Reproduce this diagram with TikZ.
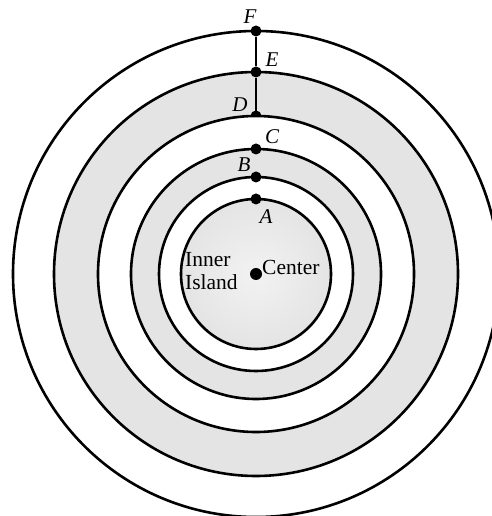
\documentclass[tikz,border=0pt]{standalone}
\usepackage{fontspec}
\setmainfont{Liberation Serif}
\definecolor{ringgray}{HTML}{E4E4E5}
\definecolor{ringlight}{HTML}{F2F2F3}
\begin{document}
\begin{tikzpicture}[x=1pt,y=1pt,
  ring/.style={draw=black, line width=2.6pt},
  dot/.style={circle, fill=black, inner sep=0pt, minimum size=11pt},
  lbl/.style={font=\fontsize{21}{24}\selectfont\itshape, inner sep=0pt},
  txt/.style={font=\fontsize{21.5}{23.5}\selectfont, inner sep=0pt, align=left}]
\useasboundingbox (0,0) rectangle (491,516);
\coordinate (O) at (256,242);
% shaded regions
\fill[ringgray, even odd rule] (O) circle (202) (O) circle (158);
\fill[ringgray, even odd rule] (O) circle (125) (O) circle (97);
\shade[inner color=ringlight, outer color=ringgray] (O) circle (75);
% circles
\foreach \r in {243,202,158,125,97,75} \draw[ring] (O) circle (\r);
% points
\node[dot] (pF) at (256,485) {};
\node[dot] (pE) at (256,444) {};
\coordinate (pD) at (256,400);
\fill (pD) ++(-5.5,0) arc[start angle=180, end angle=0, radius=5.5] -- cycle;
\node[dot] (pC) at (256,367) {};
\node[dot] (pB) at (256,339) {};
\node[dot] (pA) at (256,317) {};
\node[dot, minimum size=12pt] (pO) at (O) {};
\draw[line width=2.6pt] (pF) -- (pE) -- (pD);
% labels
\node[lbl] (lF) at (250,499) {F};
\node[lbl] (lE) at (272,456) {E};
\node[lbl] (lD) at (240,411) {D};
\node[lbl] (lC) at (272,379) {C};
\node[lbl] (lB) at (244,351) {B};
\node[lbl] (lA) at (266,299) {A};
\node[txt, anchor=west] (center) at (262,249) {Center};
\node[txt, anchor=north west] (inner) at (185,264) {Inner\\Island};
\end{tikzpicture}
\end{document}
